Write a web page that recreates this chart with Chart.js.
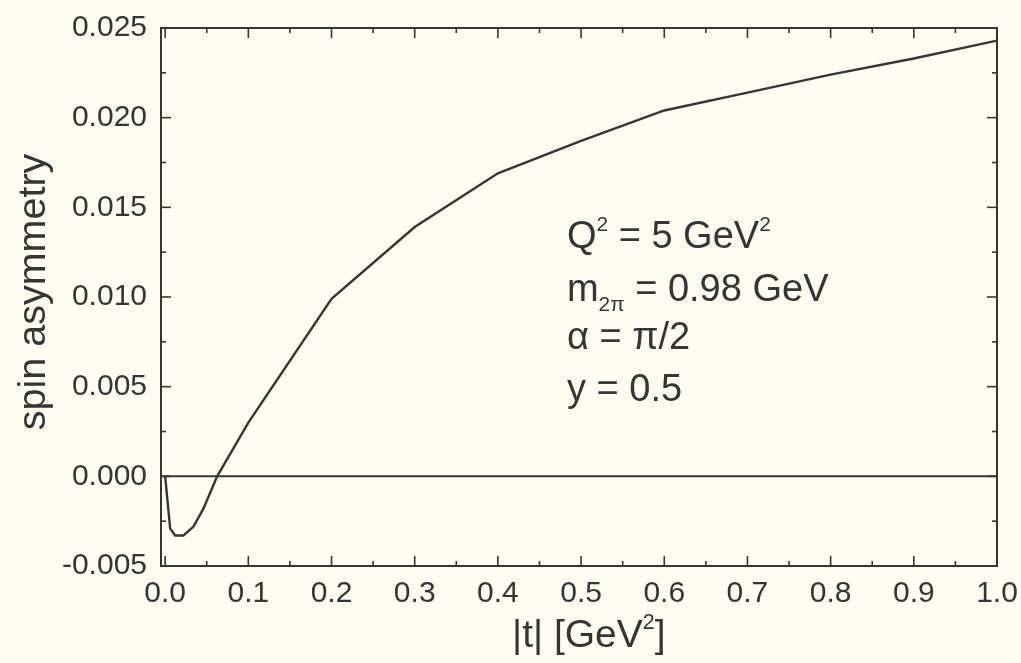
<!DOCTYPE html>
<html>
<head>
<meta charset="utf-8">
<script src="https://cdn.jsdelivr.net/npm/chart.js@4.4.1/dist/chart.umd.min.js"></script>
<style>
  html, body { margin: 0; padding: 0; background: #fdfdf4; }
  #wrap { width: 1021px; height: 663px; }
</style>
</head>
<body>
<div id="wrap"><canvas id="c" width="1021" height="663"></canvas></div>
<script>
// |t| in GeV^2 and the spin asymmetry
const tValues = [0, 0.006, 0.012, 0.022, 0.034, 0.046, 0.0625, 0.1, 0.2, 0.3, 0.4, 0.5, 0.6, 0.7, 0.8, 0.9, 1.0];
const asymmetry = [0, -0.0029, -0.0033, -0.0033, -0.0028, -0.0018, 0, 0.0030, 0.0099, 0.0139, 0.0169, 0.0187, 0.0204, 0.0214, 0.0224, 0.0233, 0.0243];

// horizontal zero line
const zeroT = [-0.005, 1.0];
const zeroY = [0, 0];

const xTicks = [0, 0.1, 0.2, 0.3, 0.4, 0.5, 0.6, 0.7, 0.8, 0.9, 1.0];
const yTicks = [-0.005, 0, 0.005, 0.010, 0.015, 0.020, 0.025];

const FONT = "'Liberation Sans', Arial, sans-serif";
const INK = "#353535";

function pts(xs, ys) {
  return xs.map((x, i) => ({ x: x, y: ys[i] }));
}

function minorsOf(ticks) {
  const out = [];
  for (let i = 0; i < ticks.length - 1; i++) out.push((ticks[i] + ticks[i + 1]) / 2);
  return out;
}

// text with super/subscripts: parts = [[text, mode]], mode "" | "sup" | "sub"
function drawRich(ctx, parts, x, y, size) {
  let cx = x;
  parts.forEach(([txt, mode]) => {
    let s = size, dy = 0;
    if (mode === "sup") { s = size * 0.55; dy = -size * 0.45; }
    if (mode === "sub") { s = size * 0.55; dy = size * 0.28; }
    ctx.font = s + "px " + FONT;
    ctx.fillText(txt, cx, y + dy);
    cx += ctx.measureText(txt).width;
  });
  return cx - x;
}

const framePlugin = {
  id: "frame",
  afterDatasetsDraw(chart) {
    const { ctx, chartArea: a, scales } = chart;
    const xs = scales.x, ys = scales.y;
    ctx.save();
    ctx.strokeStyle = INK;
    ctx.lineWidth = 2;
    ctx.strokeRect(a.left, a.top, a.right - a.left, a.bottom - a.top);

    // inward ticks on all four sides
    const tick = (x1, y1, x2, y2) => {
      ctx.beginPath(); ctx.moveTo(x1, y1); ctx.lineTo(x2, y2); ctx.stroke();
    };
    ctx.lineWidth = 1.6;
    xTicks.forEach(v => {
      const p = xs.getPixelForValue(v);
      tick(p, a.bottom, p, a.bottom - 10);
      tick(p, a.top, p, a.top + 10);
    });
    minorsOf(xTicks).forEach(v => {
      const p = xs.getPixelForValue(v);
      tick(p, a.bottom, p, a.bottom - 5);
      tick(p, a.top, p, a.top + 5);
    });
    yTicks.forEach(v => {
      const p = ys.getPixelForValue(v);
      tick(a.left, p, a.left + 10, p);
      tick(a.right, p, a.right - 10, p);
    });
    minorsOf(yTicks).forEach(v => {
      const p = ys.getPixelForValue(v);
      tick(a.left, p, a.left + 5, p);
      tick(a.right, p, a.right - 5, p);
    });

    // axis titles
    ctx.fillStyle = INK;
    ctx.textBaseline = "alphabetic";
    ctx.save();
    ctx.translate(45, (a.top + a.bottom) / 2 - 5);
    ctx.rotate(-Math.PI / 2);
    ctx.font = "39.5px " + FONT;
    ctx.textAlign = "center";
    ctx.fillText("spin asymmetry", 0, 0);
    ctx.restore();

    ctx.textAlign = "left";
    drawRich(ctx, [["|t| [GeV", ""], ["2", "sup"], ["]", ""]], 512, 647, 39);

    // parameter box
    const lx = xs.getPixelForValue(0.483);
    const lines = [
      [[["Q", ""], ["2", "sup"], [" = 5 GeV", ""], ["2", "sup"]], 0.01275],
      [[["m", ""], ["2\u03C0", "sub"], [" = 0.98 GeV", ""]], 0.00979],
      [[["\u03B1 = \u03C0/2", ""]], 0.00712],
      [[["y = 0.5", ""]], 0.00422]
    ];
    lines.forEach(([parts, yv]) => drawRich(ctx, parts, lx, ys.getPixelForValue(yv), 38));
    ctx.restore();
  }
};

new Chart(document.getElementById("c"), {
  type: "line",
  data: {
    datasets: [
      {
        data: pts(tValues, asymmetry),
        borderColor: INK,
        borderWidth: 2.4,
        pointRadius: 0,
        tension: 0
      },
      {
        data: pts(zeroT, zeroY),
        borderColor: INK,
        borderWidth: 2,
        pointRadius: 0,
        tension: 0
      }
    ]
  },
  options: {
    responsive: false,
    devicePixelRatio: 1,
    animation: false,
    layout: { padding: { top: 28, right: 24, bottom: 0, left: 0 } },
    plugins: { legend: { display: false }, tooltip: { enabled: false } },
    scales: {
      x: {
        type: "linear",
        min: -0.005,
        max: 1.0,
        grid: { display: false, drawTicks: false, tickLength: 0 },
        border: { display: false },
        afterBuildTicks: s => { s.ticks = xTicks.map(v => ({ value: v })); },
        afterFit: s => { s.height = 97; s.paddingLeft = 0; s.paddingRight = 0; },
        ticks: {
          padding: 10,
          color: INK,
          font: { family: FONT, size: 30 },
          maxRotation: 0,
          autoSkip: false,
          callback: v => Number(v).toFixed(1)
        }
      },
      y: {
        type: "linear",
        min: -0.005,
        max: 0.025,
        grid: { display: false, drawTicks: false, tickLength: 0 },
        border: { display: false },
        afterBuildTicks: s => { s.ticks = yTicks.map(v => ({ value: v })); },
        afterFit: s => { s.width = 161; s.paddingTop = 0; s.paddingBottom = 0; },
        ticks: {
          padding: 14,
          color: INK,
          font: { family: FONT, size: 30 },
          autoSkip: false,
          callback: v => Number(v).toFixed(3)
        }
      }
    }
  },
  plugins: [framePlugin]
});
</script>
</body>
</html>
